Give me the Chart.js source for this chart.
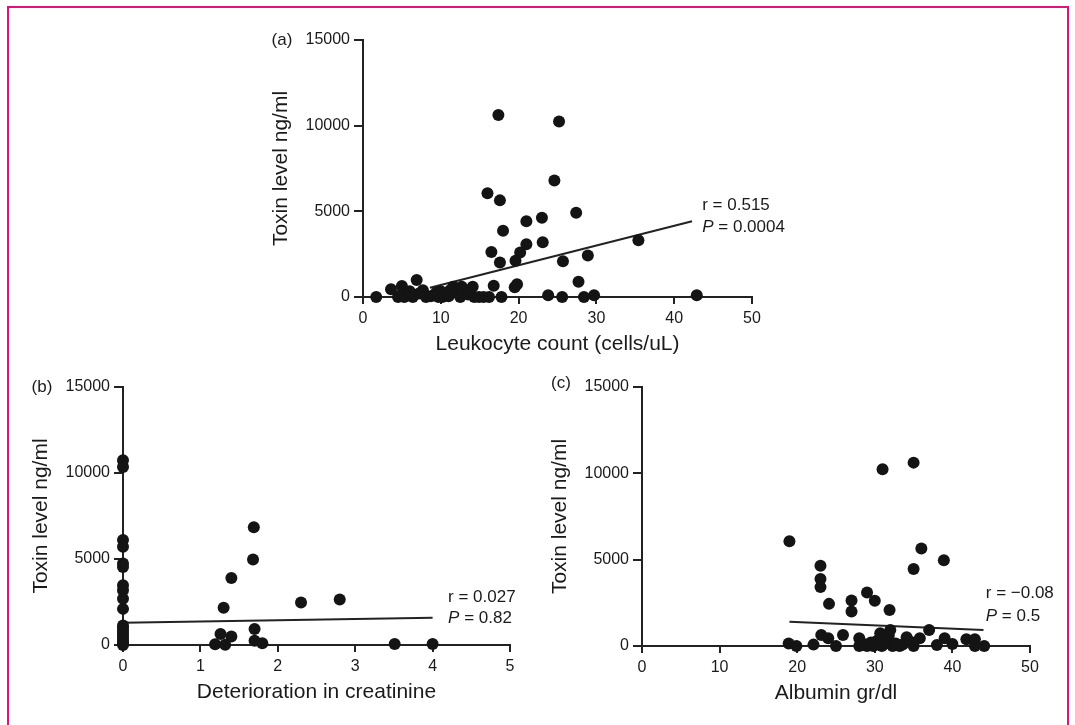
<!DOCTYPE html>
<html>
<head>
<meta charset="utf-8">
<title>Toxin level correlations</title>
<script src="https://cdn.jsdelivr.net/npm/chart.js@4.4.1/dist/chart.umd.min.js"></script>
<style>
  html, body { margin: 0; padding: 0; background: #fff; }
  #page { position: relative; width: 1075px; height: 725px; overflow: hidden; background: #fff; }
  #frame { position: absolute; left: 7px; top: 6px; width: 1062px; height: 760px;
           border: 2px solid #e0137a; box-sizing: border-box; }
  canvas { position: absolute; left: 0; top: 0; }
</style>
</head>
<body>
<div id="page">
  <div id="frame"></div>
  <canvas id="chartA" width="1075" height="725"></canvas>
  <canvas id="chartB" width="1075" height="725"></canvas>
  <canvas id="chartC" width="1075" height="725"></canvas>
</div>
<script>
// ---- data ----
const yTicks = [0, 5000, 10000, 15000];

// (a) leukocyte count vs toxin level
const leukocyteX = [17.4, 25.2, 24.6, 16.0, 17.6, 27.4, 23.0, 21.0, 18.0, 35.4, 23.1, 21.0, 16.5, 20.2,
  28.9, 19.6, 17.6, 25.7, 27.7, 16.8, 19.8, 19.5, 6.9, 3.6, 5.0, 14.1, 1.7, 4.5, 4.8, 5.3, 6.0, 6.4,
  7.2, 7.7, 8.1, 8.7, 9.1, 9.7, 10.0, 10.2, 10.8, 11.2, 11.6, 12.1, 12.5, 12.7, 13.5, 14.3, 14.9,
  15.5, 16.2, 17.8, 23.8, 25.6, 28.4, 29.7, 42.9, 9.4, 10.5, 11.0];
const leukocyteY = [10620, 10250, 6800, 6060, 5640, 4920, 4630, 4420, 3860, 3310, 3200, 3080, 2620, 2600,
  2420, 2110, 2020, 2090, 890, 660, 740, 570, 990, 450, 640, 600, 0, 0, 100, 0, 330, 0,
  200, 400, 0, 50, 100, 0, 330, 0, 180, 400, 600, 300, 0, 600, 150, 0, 0,
  0, 0, 0, 100, 0, 0, 100, 100, 250, 150, 50];
const leukocyteFit = { x: [8.6, 42.3], y: [540, 4420] };

// (b) deterioration in creatinine vs toxin level
const creatinineX = [0, 0, 0, 0, 0, 0, 0, 0, 0, 0, 0, 0, 0, 0, 0, 0, 0, 0, 0,
  1.69, 1.68, 1.40, 1.30, 2.30, 2.80, 1.70, 1.26, 1.40, 1.19, 1.32, 1.70, 1.80, 3.51, 4.0];
const creatinineY = [10740, 10350, 6100, 5710, 4740, 4540, 3470, 3180, 2690, 2100, 1130, 840, 545, 250, 0,
  100, 400, 700, 1000,
  6840, 4970, 3900, 2160, 2470, 2650, 935, 640, 500, 50, 20, 250, 100, 60, 60];
const creatinineFit = { x: [0, 4], y: [1290, 1580] };

// (c) albumin vs toxin level
const albuminX = [31.0, 35.0, 19.0, 36.0, 38.9, 35.0, 23.0, 23.0, 23.0, 29.0, 30.0, 27.0, 27.0, 24.1, 31.9,
  18.9, 19.9, 22.1, 23.1, 24.0, 25.0, 25.9, 28.0, 28.0, 29.0, 29.8, 30.7, 32.0, 31.5, 30.9, 32.3,
  33.2, 34.1, 35.0, 35.8, 37.0, 38.0, 39.0, 40.0, 41.8, 42.9, 42.9, 44.1, 28.5, 29.5, 30.3, 31.2,
  32.7, 33.6, 34.6, 31.8];
const albuminY = [10230, 10620, 6060, 5640, 4960, 4460, 4650, 3880, 3410, 3100, 2620, 2640, 2000, 2440, 2090,
  150, 0, 80, 640, 450, 0, 640, 450, 0, 0, 0, 740, 930, 350, 0, 0,
  0, 500, 0, 450, 930, 60, 450, 120, 390, 390, 0, 0, 120, 200, 300, 100,
  150, 80, 250, 600];
const albuminFit = { x: [19, 44], y: [1410, 930] };

// ---- drawing ----
const FONT = '"Liberation Sans", Arial, Helvetica, sans-serif';
const INK = '#1a1a1a';
Chart.defaults.font.family = FONT;
Chart.defaults.color = INK;

const toPoints = (xs, ys) => xs.map((x, i) => ({ x: x, y: ys[i] }));

// panel letter and r / P annotation
const panelText = {
  id: 'panelText',
  afterDraw(chart, args, opts) {
    const { ctx, chartArea, scales: { x, y } } = chart;
    ctx.save();
    ctx.fillStyle = INK;
    ctx.textBaseline = 'middle';
    ctx.font = '17px ' + FONT;
    ctx.textAlign = 'center';
    ctx.fillText(opts.letter, y.left + 14, chartArea.top + opts.letterDy);

    const px = x.getPixelForValue(opts.statX);
    ctx.textAlign = 'left';
    ctx.fillText('r = ' + opts.r, px, y.getPixelForValue(opts.rY));
    const py = y.getPixelForValue(opts.pY);
    ctx.font = 'italic 17px ' + FONT;
    ctx.fillText('P', px, py);
    const w = ctx.measureText('P').width;
    ctx.font = '17px ' + FONT;
    ctx.fillText(' = ' + opts.p, px + w, py);
    ctx.restore();
  }
};

function makePanel(id, p) {
  return new Chart(document.getElementById(id), {
    type: 'scatter',
    data: {
      datasets: [{
        data: toPoints(p.xs, p.ys),
        backgroundColor: '#141414',
        borderWidth: 0,
        pointRadius: 6,
        pointHoverRadius: 6,
        clip: false
      }, {
        type: 'line',
        data: toPoints(p.fit.x, p.fit.y),
        borderColor: '#222',
        borderWidth: 2,
        pointRadius: 0,
        fill: false,
        clip: false
      }]
    },
    options: {
      responsive: false,
      devicePixelRatio: 1,
      animation: false,
      events: [],
      layout: { padding: p.padding },
      plugins: {
        legend: { display: false },
        tooltip: { enabled: false },
        panelText: p.text
      },
      scales: {
        x: {
          type: 'linear',
          min: p.xMin, max: p.xMax,
          afterBuildTicks: s => { s.ticks = p.xTicks.map(v => ({ value: v })); },
          afterFit: s => { s.height = 65; s.paddingLeft = 0; s.paddingRight = 0; },
          border: { display: true, color: '#222', width: 2 },
          grid: { drawOnChartArea: false, drawTicks: true, tickLength: 7, lineWidth: 2, color: '#222' },
          ticks: { font: { size: 16 }, color: INK, padding: 5, maxRotation: 0, callback: v => String(v) },
          title: { display: true, text: p.xTitle, font: { size: 21 }, color: INK, padding: { top: 0, bottom: 5 } }
        },
        y: {
          type: 'linear',
          min: 0, max: 15000,
          afterBuildTicks: s => { s.ticks = yTicks.map(v => ({ value: v })); },
          afterFit: s => { s.width = 95; s.paddingTop = 0; s.paddingBottom = 0; },
          border: { display: true, color: '#222', width: 2 },
          grid: { drawOnChartArea: false, drawTicks: true, tickLength: 9, lineWidth: 2, color: '#222' },
          ticks: { font: { size: 16 }, color: INK, padding: 4, callback: v => String(v) },
          title: { display: true, text: 'Toxin level ng/ml', font: { size: 21 }, color: INK, padding: { top: 1, bottom: 0 } }
        }
      }
    },
    plugins: [panelText]
  });
}

makePanel('chartA', {
  xs: leukocyteX, ys: leukocyteY, fit: leukocyteFit,
  xMin: 0, xMax: 50, xTicks: [0, 10, 20, 30, 40, 50],
  xTitle: 'Leukocyte count (cells/uL)',
  padding: { left: 268, right: 323, top: 40, bottom: 363 },
  text: { letter: '(a)', letterDy: 0, r: '0.515', p: '0.0004', statX: 43.6, rY: 5350, pY: 4070 }
});

makePanel('chartB', {
  xs: creatinineX, ys: creatinineY, fit: creatinineFit,
  xMin: 0, xMax: 5, xTicks: [0, 1, 2, 3, 4, 5],
  xTitle: 'Deterioration in creatinine',
  padding: { left: 28, right: 565, top: 387, bottom: 15 },
  text: { letter: '(b)', letterDy: 0, r: '0.027', p: '0.82', statX: 4.2, rY: 2800, pY: 1570 }
});

makePanel('chartC', {
  xs: albuminX, ys: albuminY, fit: albuminFit,
  xMin: 0, xMax: 50, xTicks: [0, 10, 20, 30, 40, 50],
  xTitle: 'Albumin gr/dl',
  padding: { left: 547, right: 45, top: 387, bottom: 14 },
  text: { letter: '(c)', letterDy: -4, r: '\u22120.08', p: '0.5', statX: 44.3, rY: 3080, pY: 1740 }
});
</script>
</body>
</html>
